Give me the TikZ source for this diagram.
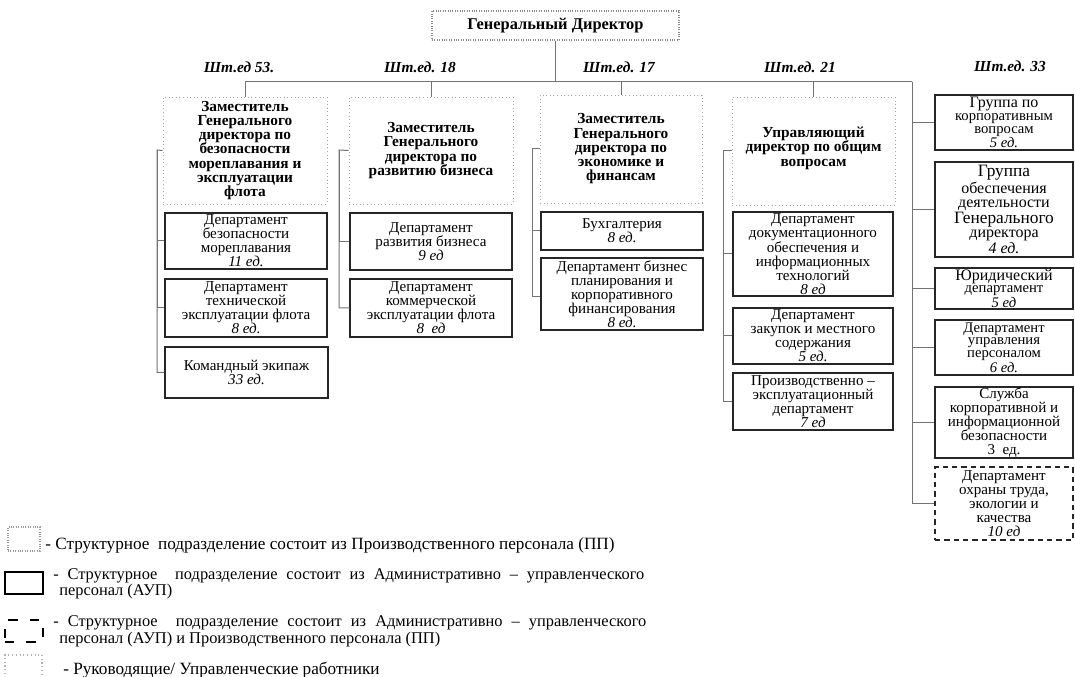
\documentclass[tikz,border=0pt]{standalone}
\usepackage{fontspec}
\setmainfont{Liberation Serif}
\usetikzlibrary{fit}
\begin{document}
\begin{tikzpicture}[x=0.75pt,y=-0.75pt,
  conn/.style={draw=black!55, line width=0.75pt},
  gdbox/.style={draw=black!45, densely dotted, line width=0.8pt, inner sep=0pt},
  dep/.style={draw=black!35, dotted, line width=0.7pt, inner sep=0pt},
  dept/.style={draw=black!85, line width=0.9pt, inner sep=0pt},
  mixbox/.style={dept, dashed, dash pattern=on 4pt off 3pt},
  deptxt/.style={align=center, inner sep=0pt, font=\fontsize{11.3}{10.5pt}\selectfont},
  deptxts/.style={align=center, inner sep=0pt, font=\fontsize{11}{9.6pt}\selectfont},
  deptxtb/.style={align=center, inner sep=0pt, font=\fontsize{12}{10.6pt}\selectfont},
  deptxtd/.style={align=center, inner sep=0pt, font=\fontsize{11.5}{10.7pt}\selectfont\bfseries},
  lab/.style={font=\fontsize{11.5}{12}\selectfont\bfseries\itshape},
  legtext/.style={anchor=west, inner sep=0pt, font=\fontsize{12.3}{13}\selectfont},
  legtextl/.style={anchor=west, inner sep=0pt, font=\fontsize{12.9}{13}\selectfont},
  legpp/.style={draw=black!40, densely dotted, line width=0.8pt, inner sep=0pt},
  legaup/.style={draw=black, line width=1.3pt, inner sep=0pt},
  legmix/.style={draw=black, line width=1.3pt, dash pattern=on 7pt off 9pt, inner sep=0pt},
  legmgr/.style={draw=black!30, dotted, line width=0.8pt, inner sep=0pt}
]
\fill[white] (0,0) rectangle (1075,677);
\useasboundingbox (0,0) rectangle (1075,677);

% General director
\node[gdbox, fit={(432,11) (679,40)}] (gd) {};
\node[font=\fontsize{12.3}{14}\selectfont\bfseries, inner sep=0pt] (gdt) at (gd.center) {Генеральный Директор};

% column labels
\node[lab] (l1) at (239,67) {Шт.ед 53.};
\node[lab] (l2) at (420,67) {Шт.ед. 18};
\node[lab] (l3) at (619,67) {Шт.ед. 17};
\node[lab] (l4) at (800,67) {Шт.ед. 21};
\node[lab] (l5) at (1010,66) {Шт.ед. 33};

% deputies
\node[dep, fit={(163,97) (327,204)}] (d1) {};
\node[deptxtd] (d1t) at (d1.center) {Заместитель\\Генерального\\директора по\\безопасности\\мореплавания и\\эксплуатации\\флота};
\node[dep, fit={(349,97) (513,204)}] (d2) {};
\node[deptxtd] (d2t) at (d2.center) {Заместитель\\Генерального\\директора по\\развитию бизнеса};
\node[dep, fit={(540,95) (702,203)}] (d3) {};
\node[deptxtd] (d3t) at (d3.center) {Заместитель\\Генерального\\директора по\\экономике и\\финансам};
\node[dep, fit={(732,97) (895,205)}] (d4) {};
\node[deptxtd] (d4t) at ([yshift=2pt]d4.center) {Управляющий\\директор по общим\\вопросам};

% column 1 departments
\node[dept, fit={(165,213) (327,269)}] (a) {};
\node[deptxt] at (a.center) {Департамент\\безопасности\\мореплавания\\\textit{11 ед.}};
\node[dept, fit={(165,279) (327,337)}] (b) {};
\node[deptxt] at (b.center) {Департамент\\технической\\эксплуатации флота\\\textit{8 ед.}};
\node[dept, fit={(165,347) (328,398)}] (c) {};
\node[deptxt] at (c.center) {Командный экипаж\\\textit{33 ед.}};

% column 2 departments
\node[dept, fit={(350,213) (512,270)}] (d) {};
\node[deptxt] at (d.center) {Департамент\\развития бизнеса\\\textit{9 ед}};
\node[dept, fit={(350,279) (512,337)}] (e) {};
\node[deptxt] at (e.center) {Департамент\\коммерческой\\эксплуатации флота\\\textit{8~~ед}};

% column 3 departments
\node[dept, fit={(541,212) (703,250)}] (f) {};
\node[deptxt] at (f.center) {Бухгалтерия\\\textit{8 ед.}};
\node[dept, fit={(541,258) (703,330)}] (g) {};
\node[deptxt] at (g.center) {Департамент бизнес\\планирования и\\корпоративного\\финансирования\\\textit{8 ед.}};

% column 4 departments
\node[dept, fit={(733,212) (893,296)}] (h) {};
\node[deptxt] at (h.center) {Департамент\\документационного\\обеспечения и\\информационных\\технологий\\\textit{8 ед}};
\node[dept, fit={(733,308) (893,364)}] (i) {};
\node[deptxt] at (i.center) {Департамент\\закупок и местного\\содержания\\\textit{5 ед.}};
\node[dept, fit={(733,373) (893,430)}] (j) {};
\node[deptxt] at (j.center) {Производственно –\\эксплуатационный\\департамент\\\textit{7 ед}};

% column 5 departments
\node[dept, fit={(935,95) (1073,150)}] (k) {};
\node[deptxts] at (k.center) {{\fontsize{12}{9.6pt}\selectfont Группа по}\\корпоративным\\вопросам\\\textit{5 ед.}};
\node[dept, fit={(935,162) (1073,257)}] (l) {};
\node[deptxtb] at (l.center) {{\fontsize{13}{10.6pt}\selectfont Группа}\\обеспечения\\деятельности\\{\fontsize{13}{10.6pt}\selectfont Генерального}\\директора\\\textit{4 ед.}};
\node[dept, fit={(935,268) (1073,309)}] (m) {};
\node[deptxts] at (m.center) {{\fontsize{12}{9.6pt}\selectfont Юридический}\\департамент\\\textit{5 ед}};
\node[dept, fit={(935,320) (1073,375)}] (n) {};
\node[deptxts] at (n.center) {Департамент\\управления\\персоналом\\\textit{6 ед.}};
\node[dept, fit={(935,387) (1073,458)}] (o) {};
\node[deptxt] at (o.center) {Служба\\корпоративной и\\информационной\\безопасности\\3~~ед.};
\node[mixbox, fit={(935,467) (1073,540)}] (p) {};
\node[deptxt] at (p.center) {Департамент\\охраны труда,\\экологии и\\качества\\\textit{10 ед}};

% bus
\coordinate (busL) at (245,82);
\coordinate (busR) at (912,82);
\draw[conn] (gd.south) -- (gd.south |- busL);
\draw[conn] (busL) -- (busR);
\draw[conn] (d1.north) -- (d1.north |- busL);
\draw[conn] (d2.north) -- (d2.north |- busL);
\draw[conn] (d3.north) -- (d3.north |- busL);
\draw[conn] (d4.north) -- (d4.north |- busL);

% column spines
\coordinate (s1) at (157,150);
\draw[conn] (d1.west) -- (s1) |- (c.west);
\draw[conn] (s1) |- (a.west);
\draw[conn] (s1) |- (b.west);
\coordinate (s2) at (339,150);
\draw[conn] (d2.west) -- (s2) |- (e.west);
\draw[conn] (s2) |- (d.west);
\coordinate (s3) at (532,149);
\draw[conn] (d3.west) -- (s3) |- ([yshift=-2pt]g.west);
\draw[conn] (s3) |- (f.west);
\coordinate (s4) at (723,151);
\draw[conn] (d4.west) -- (s4) |- (j.west);
\draw[conn] (s4) |- (h.west);
\draw[conn] (s4) |- (i.west);
\draw[conn] (busR) |- (p.west);
\draw[conn] (busR) |- (k.west);
\draw[conn] (busR) |- (l.west);
\draw[conn] (busR) |- (m.west);
\draw[conn] (busR) |- (n.west);
\draw[conn] (busR) |- (o.west);

% legend
\node[legpp, fit={(8,527) (40,551)}] (lg1) {};
\node[legtextl] (lg1t) at (45,545) {- Структурное\ \ подразделение состоит из Производственного персонала (ПП)};
\node[legaup, fit={(5,572) (43,594)}] (lg2) {};
\node[legtext] (lg2a) at (53,576) {\makebox[591\dimexpr 0.75pt\relax][s]{- Структурное\ \ подразделение состоит из Административно – управленческого}};
\node[legtext] (lg2b) at (59,592) {персонал (АУП)};
\node[legmix, fit={(5,620) (43,642)}] (lg3) {};
\node[legtext] (lg3a) at (53,623) {\makebox[593\dimexpr 0.75pt\relax][s]{- Структурное\ \ подразделение состоит из Административно – управленческого}};
\node[legtext] (lg3b) at (59,640) {персонал (АУП) и Производственного персонала (ПП)};
\node[legmgr, fit={(5,655) (42,690)}] (lg4) {};
\node[legtextl] (lg4t) at (63,670) {- Руководящие/ Управленческие работники};
\end{tikzpicture}
\end{document}
